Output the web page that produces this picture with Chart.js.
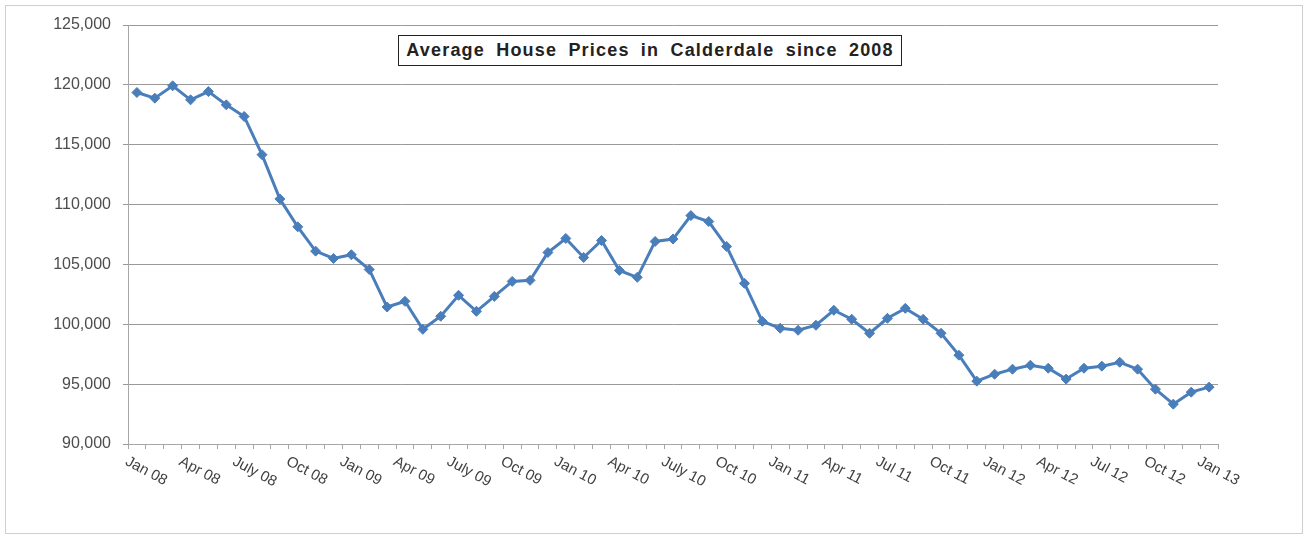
<!doctype html>
<html lang="en">
  <head>
    <meta charset="UTF-8" />
    <title>Average House Prices in Calderdale since 2008</title>
    <style>
      html, body { margin: 0; padding: 0; background: #fff; }
      .frame {
        position: absolute; left: 5px; top: 5px; width: 1298px; height: 529px;
        box-sizing: border-box; border: 1px solid #cfcfcf;
      }
      .chart-container { position: absolute; left: 0; top: 0; width: 1306px; height: 536px; }
      .title-box {
        position: absolute; left: 398px; top: 35px; width: 504px; height: 31px;
        box-sizing: border-box; border: 1px solid #222; background: #fff;
        font: bold 18px "Liberation Sans", Arial, sans-serif; color: #222;
        word-spacing: 5px; letter-spacing: 1.2px; text-align: center; line-height: 29px;
        white-space: nowrap;
      }
    </style>
  </head>
  <body>
    <div class="frame"></div>
    <div class="chart-container">
      <canvas id="priceChart"></canvas>
    </div>
    <div class="title-box">Average House Prices in Calderdale since 2008</div>

    <script src="https://cdn.jsdelivr.net/npm/chart.js"></script>
    <script>
      const months = [
        "Jan 08", "Feb 08", "Mar 08", "Apr 08", "May 08", "Jun 08", "Jul 08", "Aug 08", "Sep 08", "Oct 08", "Nov 08", "Dec 08",
        "Jan 09", "Feb 09", "Mar 09", "Apr 09", "May 09", "Jun 09", "Jul 09", "Aug 09", "Sep 09", "Oct 09", "Nov 09", "Dec 09",
        "Jan 10", "Feb 10", "Mar 10", "Apr 10", "May 10", "Jun 10", "Jul 10", "Aug 10", "Sep 10", "Oct 10", "Nov 10", "Dec 10",
        "Jan 11", "Feb 11", "Mar 11", "Apr 11", "May 11", "Jun 11", "Jul 11", "Aug 11", "Sep 11", "Oct 11", "Nov 11", "Dec 11",
        "Jan 12", "Feb 12", "Mar 12", "Apr 12", "May 12", "Jun 12", "Jul 12", "Aug 12", "Sep 12", "Oct 12", "Nov 12", "Dec 12",
        "Jan 13"
      ];

      // average price per month
      const prices = [
        119360, 118890, 119920, 118750, 119440, 118330, 117360, 114170, 110470, 108140, 106110, 105500,
        105810, 104580, 101440, 101920, 99580, 100670, 102420, 101080, 102330, 103580, 103670, 106000,
        107170, 105580, 107000, 104500, 103920, 106920, 107120, 109080, 108580, 106500, 103420, 100250,
        99670, 99500, 99920, 101170, 100420, 99250, 100500, 101330, 100420, 99250, 97420, 95250,
        95830, 96250, 96580, 96330, 95420, 96330, 96500, 96830, 96250, 94580, 93330, 94330,
        94750
      ];

      // one label every third month
      const tickLabels = [
        "Jan 08", "Apr 08", "July 08", "Oct 08", "Jan 09", "Apr 09", "July 09", "Oct 09",
        "Jan 10", "Apr 10", "July 10", "Oct 10", "Jan 11", "Apr 11", "Jul 11", "Oct 11",
        "Jan 12", "Apr 12", "Jul 12", "Oct 12", "Jan 13"
      ];
      const labelEvery = 3;

      const yMin = 90000;
      const yMax = 125000;
      const yStep = 5000;

      // Excel-style labels slanting down to the right
      const slantedLabels = {
        id: "slantedLabels",
        afterDraw(chart) {
          const xs = chart.scales.x;
          const ctx = chart.ctx;
          ctx.save();
          ctx.font = '15px "Liberation Sans", Arial, sans-serif';
          ctx.fillStyle = "#404040";
          ctx.textAlign = "left";
          ctx.textBaseline = "top";
          tickLabels.forEach((label, i) => {
            const px = xs.getPixelForValue(i * labelEvery);
            ctx.save();
            ctx.translate(px - 7, xs.top + 10);
            ctx.rotate((28 * Math.PI) / 180);
            ctx.fillText(label, 0, 0);
            ctx.restore();
          });
          ctx.restore();
        },
      };

      const ctx = document.getElementById("priceChart").getContext("2d");
      new Chart(ctx, {
        type: "line",
        data: {
          labels: months,
          datasets: [
            {
              label: "Average price",
              data: prices,
              borderColor: "#4a7ebb",
              backgroundColor: "#4a7ebb",
              borderWidth: 3,
              tension: 0,
              pointStyle: "rectRot",
              pointRadius: 5,
              pointBorderWidth: 1,
              pointBorderColor: "#4a7ebb",
              pointBackgroundColor: "#4a7ebb",
            },
          ],
        },
        plugins: [slantedLabels],
        options: {
          responsive: true,
          maintainAspectRatio: false,
          animation: false,
          layout: { padding: { left: 0, right: 88, top: 25, bottom: 87 } },
          plugins: {
            legend: { display: false },
            title: { display: false },
            tooltip: { enabled: false },
          },
          scales: {
            x: {
              offset: true,
              grid: {
                offset: true,
                drawOnChartArea: false,
                tickLength: 5,
                color: "#a6a6a6",
              },
              border: { color: "#a6a6a6" },
              ticks: { display: false, autoSkip: false },
            },
            y: {
              min: yMin,
              max: yMax,
              afterFit: (scale) => {
                scale.width = 128;
              },
              grid: { color: "#999999", tickLength: 5 },
              border: { color: "#a6a6a6" },
              ticks: {
                stepSize: yStep,
                padding: 12,
                color: "#4d4d4d",
                font: { family: '"Liberation Sans", Arial, sans-serif', size: 16 },
                callback: (v) => v.toLocaleString("en-US"),
              },
            },
          },
        },
      });
    </script>
  </body>
</html>
